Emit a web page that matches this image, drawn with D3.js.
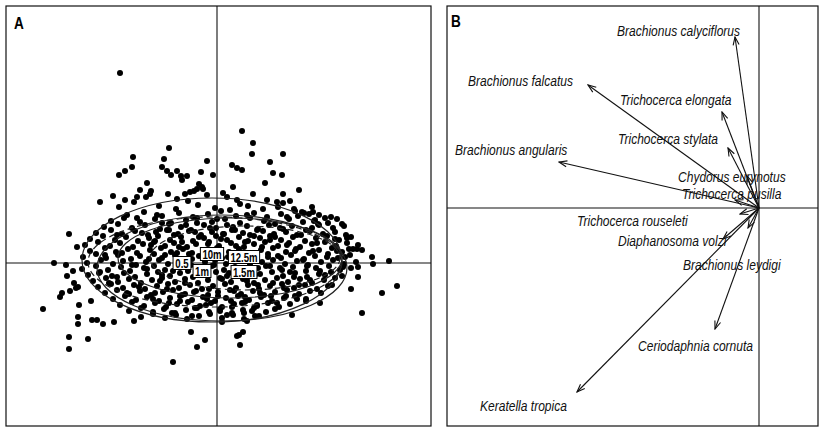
<!DOCTYPE html>
<html>
<head>
<meta charset="utf-8">
<script src="https://cdn.jsdelivr.net/npm/d3@7"></script>
<style>
  body { margin: 0; background: #fff; }
  text { font-family: 'Liberation Sans', Arial, sans-serif; }
</style>
</head>
<body>
<svg width="819" height="428"></svg>
<script>
// site scores (axis1, axis2) x100, panel A
const outlierScores = [
  [-97,190],[25,132],[36,120],[35,109],[66,109],[-48,115],[-84,106],[-53,104],[-85,96],[-92,92],
  [-98,88],[-55,96],[-50,92],[-46,88],[-40,92],[-36,87],[-30,87],[-35,83],[-10,102],[-16,91],
  [-4,88],[15,98],[20,95],[25,93],[53,101],[56,90],[65,88],[48,80],[82,73],[-70,80],
  [-77,73],[-66,72],[-67,69],[-71,66],[-80,66],[-104,67],[-117,61],[-92,63],[-98,56],[-83,61],
  [-49,69],[-32,69],[-27,71],[-23,72],[-18,79],[-15,76],[-14,74],[-20,74],[-10,68],[-40,64],
  [-29,62],[6,70],[10,66],[16,76],[36,69],[50,63],[60,61],[66,60],[73,62],[66,69],
  [95,56],[85,51],[20,63],[23,59],[77,54],[87,50],[92,49],[102,48],[114,46],[97,42],
  [101,39],[125,39],[130,25],[145,13],[155,6],[156,-1],[172,2],[141,-4],[141,-14],[134,-26],
  [165,-30],[180,-23],[145,-50],[103,-40],[89,-38],[75,-52],[128,6],[132,14],[140,14],[126,-4],
  [-148,29],[-140,16],[-163,0],[-151,-2],[-144,-8],[-150,-13],[-143,-20],[-147,-28],[-141,-25],[-139,-24],
  [-155,-30],[-157,-34],[-174,-46],[-138,-42],[-139,-54],[-139,-61],[-125,-57],[-120,-57],[-114,-61],[-103,-59],
  [-148,-74],[-129,-76],[-148,-86],[-126,-38],[-83,-58],[-26,-69],[-12,-77],[-20,-84],[-44,-99],[20,-73],
  [22,-72],[26,-69],[23,-82],[5,-59],[30,-58],[42,-53]
];

const coreScores = [
  [-58,57],[-41,54],[-19,58],[-2,55],[13,53],[31,57],[46,54],[61,56],[78,52],
  [-90,48],[-73,51],[-55,47],[-38,50],[-24,46],[-9,49],[4,52],[19,47],[37,50],[50,46],[64,49],[81,47],[96,51],[108,45],
  [-106,42],[-93,45],[-77,41],[-62,44],[-46,40],[-31,43],[-20,45],[-5,41],[8,44],[23,40],[33,45],[47,42],[58,39],[72,44],[86,41],[98,43],[111,40],[120,44],
  [-113,36],[-99,39],[-85,35],[-72,38],[-57,34],[-48,39],[-36,36],[-26,33],[-13,38],[-1,35],[10,38],[18,33],[30,37],[41,34],[52,38],[63,35],[75,37],[89,33],[102,38],[116,35],[127,37],
  [-121,30],[-106,33],[-95,29],[-82,32],[-69,28],[-61,31],[-50,33],[-39,29],[-28,32],[-16,28],[-5,31],[6,29],[15,33],[26,30],[37,27],[46,32],[57,29],[69,31],[80,28],[93,32],[106,29],[118,31],[129,28],
  [-127,24],[-114,27],[-102,23],[-91,26],[-79,22],[-68,25],[-59,27],[-47,23],[-36,26],[-24,22],[-13,25],[-1,27],[10,23],[22,26],[31,22],[43,25],[53,27],[64,23],[76,26],[88,22],[99,25],[110,27],[122,23],[134,26],
  [-132,18],[-119,21],[-107,17],[-97,20],[-84,16],[-74,19],[-63,21],[-52,17],[-43,20],[-30,16],[-21,19],[-8,21],[2,17],[14,20],[27,16],[37,19],[48,21],[61,17],[72,20],[83,16],[95,19],[108,21],[119,17],[130,20],[141,18],
  [-127,12],[-112,15],[-101,11],[-89,14],[-80,10],[-67,13],[-56,15],[-46,11],[-34,14],[-25,10],[-11,13],[0,15],[12,11],[22,14],[35,10],[44,13],[56,15],[69,11],[79,14],[92,10],[102,13],[115,15],[125,11],[136,14],
  [-134,6],[-121,9],[-111,5],[-99,8],[-86,4],[-77,7],[-63,9],[-55,5],[-42,8],[-30,4],[-18,7],[-7,9],[5,5],[17,8],[30,4],[39,7],[51,9],[64,5],[74,8],[87,4],[98,7],[111,9],[121,5],[133,8],
  [-130,0],[-116,3],[-104,-1],[-94,2],[-81,-2],[-71,1],[-58,3],[-49,-1],[-36,2],[-26,-2],[-12,1],[-2,3],[9,-1],[21,2],[33,-2],[45,1],[56,3],[68,-1],[80,2],[91,-2],[104,1],[116,3],[127,-1],[139,1],
  [-135,-6],[-121,-3],[-109,-7],[-96,-4],[-87,-8],[-73,-5],[-63,-3],[-52,-7],[-39,-4],[-29,-8],[-17,-5],[-5,-3],[7,-7],[18,-4],[29,-8],[41,-5],[53,-3],[65,-7],[76,-4],[89,-8],[99,-5],[112,-3],[123,-7],[134,-5],
  [-129,-12],[-117,-9],[-105,-13],[-93,-10],[-82,-14],[-70,-11],[-59,-9],[-47,-13],[-37,-10],[-24,-14],[-14,-11],[-1,-9],[10,-13],[22,-10],[31,-14],[43,-11],[55,-9],[66,-13],[78,-10],[90,-14],[102,-11],[114,-9],[125,-13],
  [-124,-18],[-111,-15],[-99,-19],[-88,-16],[-76,-20],[-65,-17],[-55,-15],[-42,-19],[-32,-16],[-19,-20],[-9,-17],[3,-15],[14,-19],[26,-16],[37,-20],[48,-17],[60,-15],[71,-19],[83,-16],[95,-20],[107,-17],[118,-15],
  [-119,-24],[-106,-21],[-94,-25],[-83,-22],[-72,-26],[-60,-23],[-49,-21],[-38,-25],[-27,-22],[-15,-26],[-4,-23],[8,-21],[19,-25],[31,-22],[42,-26],[53,-23],[65,-21],[77,-25],[88,-22],[100,-26],[111,-23],
  [-112,-30],[-100,-27],[-88,-31],[-77,-28],[-66,-32],[-54,-29],[-44,-27],[-32,-31],[-21,-28],[-9,-32],[1,-29],[13,-27],[24,-31],[36,-28],[47,-32],[58,-29],[70,-27],[82,-31],[93,-28],[104,-30],
  [-104,-36],[-92,-33],[-81,-37],[-70,-34],[-58,-38],[-47,-35],[-37,-33],[-25,-37],[-14,-34],[-2,-38],[9,-35],[21,-33],[32,-37],[44,-34],[55,-38],[67,-35],[78,-33],[89,-36],
  [-97,-42],[-85,-39],[-73,-43],[-62,-40],[-51,-44],[-40,-41],[-29,-39],[-17,-43],[-6,-40],[5,-44],[17,-41],[28,-39],[40,-43],[51,-40],[62,-44],[73,-41],
  [-88,-48],[-76,-45],[-64,-49],[-53,-46],[-42,-50],[-31,-47],[-20,-45],[-8,-49],[3,-46],[15,-50],[26,-47],[37,-45],[49,-49],[58,-46],
  [-76,-54],[-64,-51],[-52,-55],[-41,-52],[-30,-56],[-18,-53],[-7,-51],[5,-55],[16,-52],[27,-56],[38,-53],
  [-55,40],[-43,28],[-31,38],[-18,26],[-7,35],[4,24],[16,36],[28,21],[40,33],[53,23],[66,34],[78,12],
  [-66,18],[-52,8],[-38,16],[-25,4],[-12,11],[-3,-2],[11,6],[24,-6],[36,9],[49,-3],[61,7],[73,-9],[86,3],
  [-70,-6],[-57,-18],[-44,-8],[-32,-20],[-20,-12],[-8,-26],[5,-16],[17,-28],[30,-18],[43,-30],[56,-20],[69,-33],[82,-22],
  [-62,-30],[-48,-40],[-35,-32],[-22,-45],[-10,-36],[3,-48],[14,-38],[27,-50],[40,-42],
  [-95,10],[-108,-20],[-90,-30],[100,20],[115,-22],[95,35],[-80,45],
  [-75,30],[-62,22],[-48,33],[-35,21],[-22,31],[-9,19],[7,29],[19,17],[33,28],[45,16],[58,26],[70,18],[84,28],[96,12],
  [-85,-2],[-68,4],[-55,-12],[-41,-1],[-28,9],[-15,-6],[-1,6],[12,-10],[26,4],[38,-12],[51,6],[63,-5],[77,-14],[90,-3],[103,-8],
  [-78,-24],[-64,-36],[-50,-26],[-37,-38],[-23,-29],[-11,-42],[1,-33],[15,-44],[28,-34],[41,-22],[54,-33],[67,-25],[80,-36],[93,-17],
  [-100,28],[-112,8],[-118,-10],[-100,-14],[110,6],[120,12],[108,-12],[118,24],[-60,48],[0,44],[30,48],[70,46],
  [-45,-50],[-25,-53],[10,-52],[35,-48],[-20,40],[25,-40],[-40,10],[60,-40]
];

// depth groups: centroid and ellipse (x100)
const depthLabels = ['0.5', '1m', '10m', '12.5m', '1.5m'];
const depthCentroid = [[-35,0],[-15,-8],[-5,9],[27,6],[27,-9]];
const depthEllipse = [[-5,3,130,62],[5,-5,125,53],[13,5,112,40],[28,5,95,32],[-2,1,127,45]];
const depthDashed = [false, false, false, true, true];

// species scores, panel B
const species = ['Brachionus calyciflorus','Brachionus falcatus','Trichocerca elongata','Trichocerca stylata',
  'Brachionus angularis','Chydorus eurynotus','Trichocerca pusilla','Trichocerca rouseleti',
  'Diaphanosoma volzi','Brachionus leydigi','Ceriodaphnia cornuta','Keratella tropica'];
const spAxis1 = [-0.24,-1.71,-0.37,-0.31,-2.00,-0.12,-0.24,-0.19,-0.36,-0.11,-0.44,-1.82];
const spAxis2 = [1.71,1.23,0.96,0.60,0.46,0.32,0.08,-0.06,-0.31,-0.20,-1.21,-1.84];

const svg = d3.select('svg');
const ink = '#111';
const narrow = 0.86;

// ---------- panel A ----------
const xA = d3.scaleLinear().domain([-211, 214]).range([6, 431]);
const yA = d3.scaleLinear().domain([-163, 257]).range([426, 6]);
const gA = svg.append('g');

gA.append('rect').attr('x', 6).attr('y', 6).attr('width', 425).attr('height', 420)
  .attr('fill', 'none').attr('stroke', ink).attr('stroke-width', 1.2);
gA.append('line').attr('x1', xA(0)).attr('x2', xA(0)).attr('y1', 6).attr('y2', 426)
  .attr('stroke', ink).attr('stroke-width', 1.1);
gA.append('line').attr('x1', 6).attr('x2', 431).attr('y1', yA(0)).attr('y2', yA(0))
  .attr('stroke', ink).attr('stroke-width', 1.1);

const allSites = outlierScores.concat(coreScores);
gA.selectAll('circle.site').data(allSites)
  .enter().append('circle')
    .attr('class', 'site')
    .attr('cx', d => xA(d[0]))
    .attr('cy', d => yA(d[1]))
    .attr('r', 3)
    .attr('fill', '#000');

gA.selectAll('ellipse').data(depthEllipse)
  .enter().append('ellipse')
    .attr('cx', d => xA(d[0]))
    .attr('cy', d => yA(d[1]))
    .attr('rx', d => xA(d[2]) - xA(0))
    .attr('ry', d => yA(0) - yA(d[3]))
    .attr('fill', 'none')
    .attr('stroke', '#222')
    .attr('stroke-width', 1.2)
    .attr('stroke-dasharray', (d, i) => depthDashed[i] ? '6,4' : null);

const lab = gA.selectAll('g.depth').data(depthLabels)
  .enter().append('g')
    .attr('class', 'depth')
    .attr('transform', (d, i) => `translate(${xA(depthCentroid[i][0])},${yA(depthCentroid[i][1])})`);
lab.append('text')
  .attr('text-anchor', 'middle')
  .attr('dy', '0.36em')
  .attr('font-size', 13)
  .attr('font-weight', 'bold')
  .attr('transform', 'scale(0.74,1)')
  .text(d => d);
lab.each(function () {
  const g = d3.select(this);
  const b = g.select('text').node().getBBox();
  const w = b.width * 0.74 + 4;
  g.insert('rect', 'text')
    .attr('x', -w / 2).attr('y', -6.5)
    .attr('width', w).attr('height', 13)
    .attr('fill', '#fff').attr('stroke', '#000').attr('stroke-width', 1);
});

gA.append('text').attr('transform', 'translate(14,29) scale(0.85,1)')
  .attr('font-size', 16).attr('font-weight', 'bold').text('A');

// ---------- panel B ----------
const xB = d3.scaleLinear().domain([-3.12, 0.6]).range([447, 819]);
const yB = d3.scaleLinear().domain([-2.18, 2.02]).range([426, 6]);
const gB = svg.append('g');

gB.append('rect').attr('x', 447).attr('y', 6).attr('width', 371).attr('height', 420)
  .attr('fill', 'none').attr('stroke', ink).attr('stroke-width', 1.2);
gB.append('line').attr('x1', xB(0)).attr('x2', xB(0)).attr('y1', 6).attr('y2', 426)
  .attr('stroke', ink).attr('stroke-width', 1.1);
gB.append('line').attr('x1', 447).attr('x2', 818).attr('y1', yB(0)).attr('y2', yB(0))
  .attr('stroke', ink).attr('stroke-width', 1.1);

svg.append('defs').append('marker')
  .attr('id', 'head')
  .attr('viewBox', '-9 -5 10 10')
  .attr('markerWidth', 10).attr('markerHeight', 10)
  .attr('markerUnits', 'userSpaceOnUse')
  .attr('orient', 'auto')
  .append('path')
    .attr('d', 'M-8,-3L0,0L-8,3')
    .attr('fill', 'none').attr('stroke', ink).attr('stroke-width', 1.1);

gB.selectAll('line.arrow').data(species)
  .enter().append('line')
    .attr('class', 'arrow')
    .attr('x1', xB(0)).attr('y1', yB(0))
    .attr('x2', (d, i) => xB(spAxis1[i]))
    .attr('y2', (d, i) => yB(spAxis2[i]))
    .attr('stroke', ink).attr('stroke-width', 1.1)
    .attr('marker-end', 'url(#head)');

// label start point relative to arrow tip (px)
const labelShift = [[-118,-1],[-120,1],[-102,-7],[-110,-4],[-104,-7],[-69,6],[-53,-1],[-163,12],[-105,7],[-65,42],[-77,22],[-97,19]];
gB.selectAll('text.sp').data(species)
  .enter().append('text')
    .attr('class', 'sp')
    .attr('transform', (d, i) =>
      `translate(${xB(spAxis1[i]) + labelShift[i][0]},${yB(spAxis2[i]) + labelShift[i][1]}) scale(${narrow},1)`)
    .attr('font-size', 14)
    .attr('font-style', 'italic')
    .attr('fill', ink)
    .text(d => d);

gB.append('text').attr('transform', 'translate(451,27) scale(0.85,1)')
  .attr('font-size', 16).attr('font-weight', 'bold').text('B');
</script>
</body>
</html>
